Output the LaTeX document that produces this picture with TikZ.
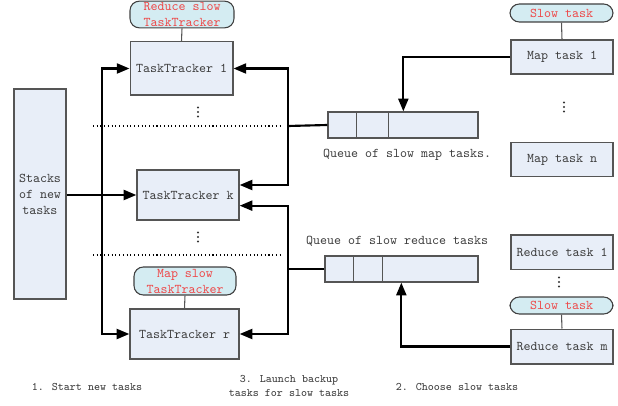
\documentclass[tikz,border=0pt]{standalone}
\usetikzlibrary{arrows.meta,calc}
\definecolor{boxfill}{RGB}{232,238,248}
\definecolor{boxline}{RGB}{85,85,85}
\definecolor{pillfill}{RGB}{212,236,242}
\definecolor{redtext}{RGB}{238,72,72}
\definecolor{txt}{RGB}{60,60,60}
\tikzset{
  box/.style={draw=boxline, line width=1pt, fill=boxfill, inner sep=0pt, text=txt,
    font=\ttfamily\fontsize{10}{12}\selectfont, align=center},
  pill/.style={draw=black!75, line width=0.8pt, fill=pillfill, rounded corners=7pt,
    inner xsep=0pt, inner ysep=0pt, text=redtext, align=center,
    font=\ttfamily\fontsize{10}{12}\selectfont},
  tie/.style={draw=boxline, line width=0.8pt},
  arr/.style={line width=1.6pt, -{Triangle[length=9.5pt,width=7.5pt]}},
  plain/.style={line width=1.6pt},
  lbl/.style={text=txt, font=\ttfamily\fontsize{10}{12}\selectfont, inner sep=0pt},
  captext/.style={text=txt, font=\ttfamily\fontsize{8.6}{10.5}\selectfont, inner sep=0pt, align=center},
  sep/.style={dotted, line width=0.8pt},
  dotmark/.style={fill=black!80}
}
\newcommand{\vdotsat}[2]{%
  \fill[dotmark] (#1,#2-4.5) circle (1.1);
  \fill[dotmark] (#1,#2) circle (1.1);
  \fill[dotmark] (#1,#2+4.5) circle (1.1);}
\begin{document}
\begin{tikzpicture}[x=0.75pt,y=-0.75pt]
\useasboundingbox (0,0) rectangle (618,406);

% left stack
\node[box, minimum width=39pt, minimum height=157.5pt] (st) at (40,194) {Stacks\\of new\\tasks};

% task trackers
\node[box, minimum width=77pt, minimum height=40pt] (t1) at (181.5,68.5) {TaskTracker 1};
\node[box, minimum width=76.5pt, minimum height=37.5pt] (tk) at (188,195) {TaskTracker k};
\node[box, minimum width=81.75pt, minimum height=37.5pt] (tr) at (184.5,334) {TaskTracker r};

\node[pill, minimum width=78pt, minimum height=20pt] (p1) at (182,14.5) {Reduce slow\\TaskTracker};
\node[pill, minimum width=76.5pt, minimum height=21pt] (p2) at (185,281) {Map slow\\TaskTracker};
\draw[tie] (p1.south) -- (t1.north);
\draw[tie] (p2.south) -- (tr.north);

\vdotsat{198}{112}
\vdotsat{198}{237}
\draw[sep] (93,126) -- (282,126);
\draw[sep] (93,255) -- (282,255);

% left arrows
\coordinate (jl) at (102,195);
\draw[arr] (st.east |- tk.west) -- (tk.west);
\draw[arr] (jl) |- (t1.west);
\draw[arr] (jl) |- (tr.west);

% queues
\node[box, minimum width=112.5pt, minimum height=19.5pt] (mq) at (403,125) {};
\draw[boxline, line width=1pt] ([xshift=21.75pt]mq.north west) -- ([xshift=21.75pt]mq.south west);
\draw[boxline, line width=1pt] ([xshift=45.75pt]mq.north west) -- ([xshift=45.75pt]mq.south west);
\node[lbl] (mql) at (407,155) {Queue of slow map tasks.};

\node[box, minimum width=114.75pt, minimum height=19.5pt] (rq) at (401.5,269) {};
\draw[boxline, line width=1pt] ([xshift=21.75pt]rq.north west) -- ([xshift=21.75pt]rq.south west);
\draw[boxline, line width=1pt] ([xshift=43.5pt]rq.north west) -- ([xshift=43.5pt]rq.south west);
\node[lbl] (rql) at (397,241) {Queue of slow reduce tasks};

% right junctions
\coordinate (jm) at (288,126);
\coordinate (jr) at (288,269);
\draw[plain] (mq.west) -- (jm);
\draw[plain] (rq.west) -- (jr);
\draw[arr] (jm) |- (t1.east);
\draw[arr] (jm) |- ([yshift=7.5pt]tk.east);
\draw[arr] (jr) |- ([yshift=-8pt]tk.east);
\draw[arr] (jr) |- (tr.east);

% map tasks
\node[box, minimum width=76.5pt, minimum height=25.5pt] (m1) at (562,57) {Map task 1};
\node[box, minimum width=76.5pt, minimum height=25.5pt] (mn) at (562,159.5) {Map task n};
\node[pill, minimum width=77.25pt, minimum height=13.5pt] (p3) at (561.5,13) {Slow task};
\draw[tie] (p3.south) -- (m1.north);
\vdotsat{564}{107}

% reduce tasks
\node[box, minimum width=76.5pt, minimum height=26pt] (r1) at (562,252.5) {Reduce task 1};
\node[box, minimum width=76.5pt, minimum height=26pt] (rm) at (562,346.5) {Reduce task m};
\node[pill, minimum width=77.25pt, minimum height=12.75pt] (p4) at (561.5,305.5) {Slow task};
\draw[tie] (p4.south) -- (rm.north);
\vdotsat{559}{282}

\draw[arr] (m1.west) -| ([xshift=57pt]mq.north west);
\draw[arr] (rm.west) -| ([xshift=57.75pt]rq.south west);

% captions
\node[captext] (c1) at (87,387) {1. Start new tasks};
\node[captext] (c3) at (289,386) {3. Launch backup\\tasks for slow tasks};
\node[captext] (c2) at (457,387) {2. Choose slow tasks};
\end{tikzpicture}
\end{document}
